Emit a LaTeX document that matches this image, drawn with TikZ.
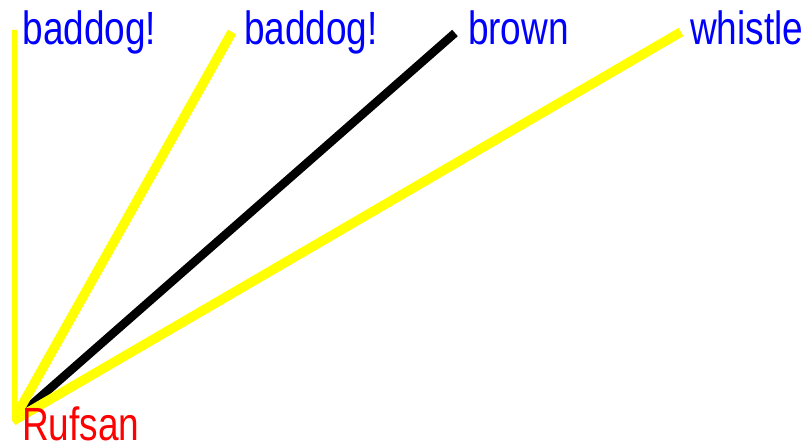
\documentclass[tikz,border=0pt]{standalone}
\usepackage{fontspec}
\setmainfont{Liberation Sans}
\definecolor{ylw}{RGB}{255,255,0}
\definecolor{blu}{RGB}{0,0,255}
\definecolor{rd}{RGB}{255,0,0}
\begin{document}
\begin{tikzpicture}[x=1pt,y=-1pt,
  edge/.style={line width=9.5pt,line cap=butt},
  lbl/.style={anchor=base west,inner sep=0pt,outer sep=0pt,yscale=1.26,
    font=\fontsize{37}{37}\selectfont}]
\useasboundingbox (0,0) rectangle (812,444);
\coordinate (O) at (13,421);
\coordinate (e1) at (12.5,30);
\coordinate (e2) at (232,32);
\coordinate (e3) at (455,33);
\coordinate (e4) at (681,32);
\begin{scope}
\clip (12,0) rectangle (812,426);
\draw[edge,black,line width=8.5pt] (O) -- (e3);
\draw[edge,ylw] (O) -- (e1);
\draw[edge,ylw] (O) -- (e2);
\draw[edge,ylw] (O) -- (e4);
\end{scope}
\node[lbl,text=blu] (t1) at (22.5,45) {baddog!};
\node[lbl,text=blu] (t2) at (244,45) {baddog!};
\node[lbl,text=blu] (t3) at (468,45) {brown};
\node[lbl,text=blu] (t4) at (690,45) {whistle};
\node[lbl,text=rd,text depth=0pt] (t5) at (22,440) {Rufsan};
\end{tikzpicture}
\end{document}
